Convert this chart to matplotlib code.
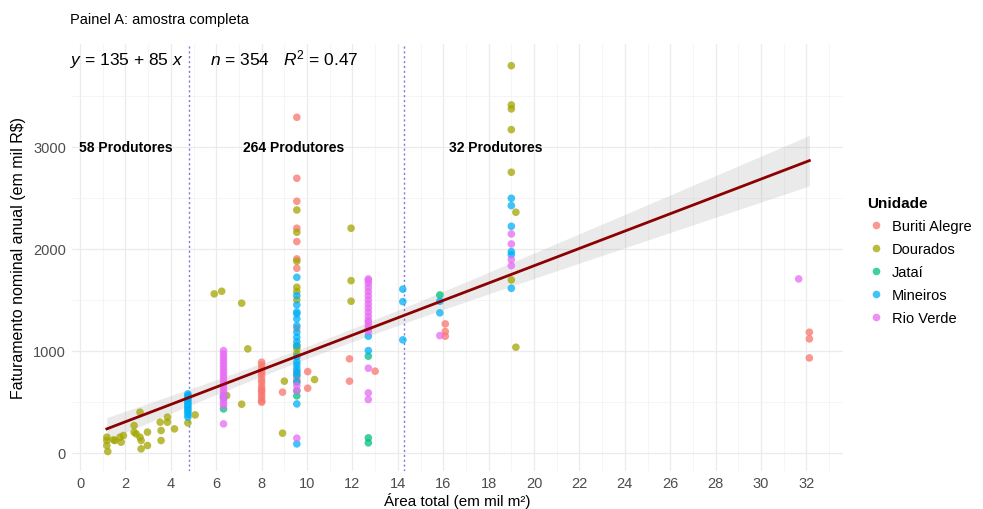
import matplotlib
matplotlib.use('Agg')
import matplotlib.pyplot as plt
from matplotlib.lines import Line2D
import numpy as np

plt.rcParams.update({
    'font.family': ['Liberation Sans', 'DejaVu Sans'],
    'mathtext.fontset': 'custom',
    'mathtext.rm': 'Liberation Sans',
    'mathtext.it': 'Liberation Sans:italic',
})

# ---- data ----
UNITS = ['Buriti Alegre', 'Dourados', 'Jataí', 'Mineiros', 'Rio Verde']
COLORS = ['#F8766D', '#A3A500', '#00BF7D', '#00B0F6', '#E76BF3']

buriti_x = [8.0] * 14 + [8.92] + [9.55] * 12 + [10.03, 10.03, 11.87, 11.87, 13.0] + [16.09] * 3 + [32.13] * 3
buriti_y = [889, 860, 820, 790, 760, 720, 690, 650, 620, 600, 570, 540, 510, 497,
            595,
            3291, 2693, 2468, 2203, 2072, 1902, 1810, 1222, 794, 760, 720, 696,
            797, 634, 922, 703, 801,
            1265, 1190, 1144,
            1183, 1118, 931]

dourados_x = [1.18, 1.18, 1.18, 1.22, 1.47, 1.54, 1.76, 1.81, 1.91, 2.38, 2.38, 2.47, 2.64, 2.64,
              2.69, 2.69, 2.97, 2.97, 3.53, 3.57, 3.57, 3.85, 3.85, 4.16, 4.75, 5.07,
              5.91, 6.24, 6.46, 7.12, 7.12, 7.39, 8.92, 9.0] + [9.55] * 9 + [10.33] + [11.94] * 3 \
             + [19.0] * 6 + [19.2, 19.2]
dourados_y = [154, 121, 72, 13, 127, 121, 154, 105, 170, 268, 203, 186, 399, 154,
              121, 39, 203, 72, 301, 219, 121, 350, 301, 235, 294, 372,
              1559, 1585, 562, 1468, 477, 1020, 193, 703,
              2382, 2164, 1879, 1624, 1582, 1500, 1052, 1020, 971,
              719, 2203, 1689, 1487,
              3797, 3412, 3373, 3170, 2752, 1696, 2360, 1036]

jatai_x = [6.32, 9.55, 9.55, 12.7, 12.7, 12.7, 15.85]
jatai_y = [431, 559, 610, 948, 147, 98, 1549]

mineiros_x = [4.75] * 12 + [6.32] * 2 + [9.55] * 20 + [12.7] * 2 + [14.22] * 3 + [15.85] * 2 + [19.0] * 6
mineiros_y = [350, 375, 400, 420, 440, 460, 480, 500, 520, 540, 560, 578,
              560, 540,
              1722, 1542, 1451, 1382, 1363, 1314, 1248, 1183, 1134, 1090, 1049, 941, 892, 860,
              824, 790, 758, 693, 480, 88,
              1144, 1003,
              1605, 1483, 1108,
              1487, 1373,
              2497, 2425, 2222, 1974, 1944, 1614]

rioverde_x = [6.32] * 20 + [9.55] * 3 + [12.7] * 19 + [15.85] + [19.0] * 4 + [31.66]
rioverde_y = [1003, 970, 940, 910, 880, 850, 820, 790, 760, 730, 700, 670, 640, 610, 580,
              550, 520, 490, 464, 284,
              657, 608, 144,
              1706, 1690, 1660, 1620, 1580, 1540, 1500, 1460, 1420, 1380, 1340, 1300, 1281,
              1250, 1220, 1190, 830, 588, 523,
              1150,
              2147, 2049, 1895, 1836,
              1706]

SERIES_X = [buriti_x, dourados_x, jatai_x, mineiros_x, rioverde_x]
SERIES_Y = [buriti_y, dourados_y, jatai_y, mineiros_y, rioverde_y]

# regression reported in the panel
INTERCEPT, SLOPE, N_OBS, R2 = 135, 85, 354, 0.47
CUTS = [4.8, 14.25]
GROUP_LABELS = ['58 Produtores', '264 Produtores', '32 Produtores']
GROUP_LABEL_X = [2.0, 9.4, 18.3]

XTICKS = list(range(0, 33, 2))
YTICKS = [0, 1000, 2000, 3000]

# ---- figure ----
fig = plt.figure(figsize=(9.83, 5.10), dpi=100)
ax = fig.add_axes([0.0729, 0.0751, 0.7844, 0.8367])

for sx, sy, c in zip(SERIES_X, SERIES_Y, COLORS):
    ax.scatter(sx, sy, s=30, color=c, alpha=0.75, edgecolors='none', zorder=3)

# fitted line + 95% band
all_x = np.concatenate([np.array(v, float) for v in SERIES_X])
all_y = np.concatenate([np.array(v, float) for v in SERIES_Y])
resid = all_y - (INTERCEPT + SLOPE * all_x)
s = np.sqrt(np.sum(resid ** 2) / (len(all_x) - 2))
xbar = all_x.mean()
sxx = np.sum((all_x - xbar) ** 2) * N_OBS / len(all_x)
xs = np.linspace(all_x.min(), all_x.max(), 200)
fit = INTERCEPT + SLOPE * xs
half = 1.967 * s * np.sqrt(1 / N_OBS + (xs - xbar) ** 2 / sxx)
ax.fill_between(xs, fit - half, fit + half, color='#999999', alpha=0.2, lw=0, zorder=2)
ax.plot(xs, fit, color='#8B0000', lw=2, zorder=4)

for c in CUTS:
    ax.axvline(c, color='#7777DD', ls=(0, (1.5, 2)), lw=1, zorder=2)

for lab, lx in zip(GROUP_LABELS, GROUP_LABEL_X):
    ax.text(lx, 3000, lab, ha='center', va='center', fontsize=10, fontweight='bold', zorder=5)

eq = r'$y$ = 135 + 85 $x$' + ' ' * 6 + r'$n$ = %d' % N_OBS + ' ' * 3 + r'$R^2$ = %.2f' % R2
ax.text(-0.44, 3863, eq, ha='left', va='center', fontsize=12.5, zorder=5)

ax.set_xlim(-0.37, 33.6)
ax.set_ylim(-175, 4010)
ax.set_xticks(XTICKS)
ax.set_yticks(YTICKS)
ax.set_xticks(np.arange(1, 34, 2), minor=True)
ax.set_yticks([500, 1500, 2500, 3500], minor=True)
ax.grid(which='major', color='#EBEBEB', lw=0.9, zorder=0)
ax.grid(which='minor', color='#F2F2F2', lw=0.5, zorder=0)
ax.set_axisbelow(True)
for sp in ax.spines.values():
    sp.set_visible(False)
ax.tick_params(which='both', length=0, labelsize=10.5, labelcolor='#4D4D4D', pad=4)

ax.set_xlabel('Área total (em mil m²)', fontsize=11, labelpad=1)
ax.set_ylabel('Faturamento nominal anual (em mil R\\$)', fontsize=11.5, labelpad=5)

fig.text(70 / 983, 1 - 20 / 510, 'Painel A: amostra completa', fontsize=10.5, va='center', ha='left')

handles = [Line2D([], [], marker='o', ls='', color=c, alpha=0.75, markersize=5.5, markeredgewidth=0)
           for c in COLORS]
leg = fig.legend(handles, UNITS, title='Unidade', loc='upper left',
                 bbox_to_anchor=(861 / 983, 1 - 191 / 510), frameon=False,
                 fontsize=10.5, title_fontproperties={'weight': 'bold', 'size': 11},
                 handletextpad=0.5, labelspacing=0.62, handlelength=1.2, borderaxespad=0)
leg._legend_box.align = 'left'

fig.savefig('out.png', dpi=100)
